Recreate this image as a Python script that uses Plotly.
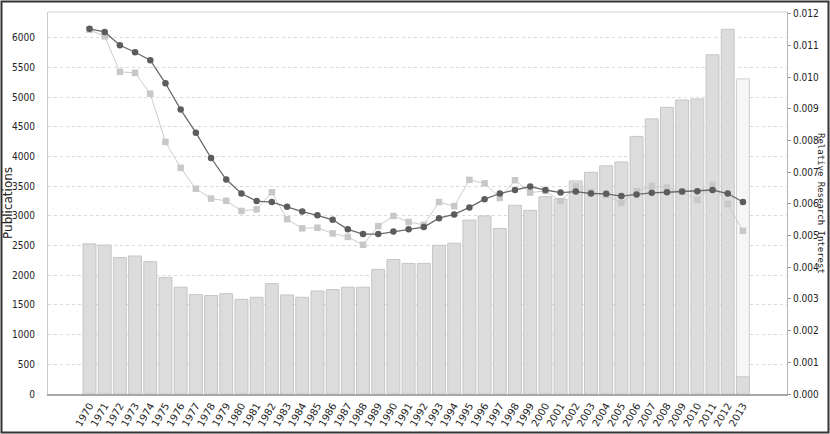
import plotly.graph_objects as go

years = [str(y) for y in range(1970, 2014)]
publications = [2530, 2510, 2300, 2325, 2230, 1965, 1800, 1675, 1660, 1690,
                1595, 1630, 1860, 1670, 1630, 1735, 1760, 1800, 1800, 2100,
                2265, 2200, 2200, 2505, 2540, 2930, 3000, 2790, 3180, 3095,
                3325, 3285, 3590, 3735, 3845, 3910, 4340, 4635, 4830, 4955,
                4970, 5715, 6145, 290]
projected_year = ["2013"]
projected_value = [5310]
interest_dark = [11.53, 11.43, 11.01, 10.79, 10.54, 9.81, 8.98, 8.25, 7.45, 6.77,
                 6.33, 6.09, 6.06, 5.91, 5.76, 5.64, 5.50, 5.20, 5.05, 5.05,
                 5.13, 5.20, 5.27, 5.55, 5.67, 5.89, 6.15, 6.33, 6.44, 6.55,
                 6.44, 6.36, 6.39, 6.33, 6.32, 6.25, 6.30, 6.35, 6.37, 6.39,
                 6.40, 6.44, 6.33, 6.06]
interest_light = [11.50, 11.29, 10.17, 10.14, 9.48, 7.96, 7.14, 6.48, 6.17, 6.10,
                  5.78, 5.83, 6.37, 5.52, 5.23, 5.25, 5.07, 4.96, 4.71, 5.30,
                  5.62, 5.43, 5.34, 6.06, 5.93, 6.76, 6.65, 6.19, 6.75, 6.36,
                  6.41, 6.09, 6.55, 6.38, 6.28, 6.03, 6.40, 6.57, 6.52, 6.38,
                  6.13, 6.60, 6.00, 5.15]
interest_dark = [v / 1000 for v in interest_dark]
interest_light = [v / 1000 for v in interest_light]
right_ticks = [i / 1000 for i in range(0, 13)]
right_labels = ["%.3f" % v for v in right_ticks]

tick_font = dict(family="Liberation Sans Narrow, DejaVu Sans Condensed, Arial Narrow, sans-serif",
                 size=10, color="#222")

fig = go.Figure()
fig.add_trace(go.Bar(x=projected_year, y=projected_value, marker=dict(color="#f6f6f6",
                     line=dict(color="#cfcfcf", width=1)), yaxis="y"))
fig.add_trace(go.Bar(x=years, y=publications, marker=dict(color="#dcdcdc",
                     line=dict(color="#c6c6c6", width=1)), yaxis="y"))
fig.add_trace(go.Scatter(x=years, y=interest_light, yaxis="y2", mode="lines+markers",
                         line=dict(color="#cccccc", width=1),
                         marker=dict(symbol="square", size=6.5, color="#c8c8c8")))
fig.add_trace(go.Scatter(x=years, y=interest_dark, yaxis="y2", mode="lines+markers",
                         line=dict(color="#6a6a6a", width=1.3),
                         marker=dict(symbol="circle", size=6.5, color="#5c5c5c")))

W, H = 830, 434
l, r, t, b = 48, 43, 12, 40
pw, ph = W - l - r, H - t - b
def px(x):
    return (x - l) / pw
def py(y):
    return (H - b - y) / ph

fig.update_layout(
    width=W, height=H, margin=dict(l=l, r=r, t=t, b=b, autoexpand=False),
    paper_bgcolor="white", plot_bgcolor="white",
    barmode="overlay", bargap=0.15, showlegend=False,
    xaxis=dict(type="category", categoryorder="array", categoryarray=years,
               range=[-2.73, 45.9], tickangle=-60,
               tickfont=dict(family="DejaVu Sans", size=10, color="#222"),
               showgrid=False, showline=True, linecolor="#a8a8a8", linewidth=2,
               ticks="", automargin=False),
    yaxis=dict(range=[0, 6436], tickvals=list(range(0, 6001, 500)), tickfont=tick_font,
               showgrid=True, gridcolor="#dadada", griddash="dot", gridwidth=1,
               zeroline=False, showline=True, linecolor="#cccccc", linewidth=1,
               ticks="outside", ticklen=10, tickcolor="rgba(0,0,0,0)", automargin=False),
    yaxis2=dict(overlaying="y", side="right", range=[0, 0.01206], tickvals=right_ticks,
                ticktext=right_labels, tickfont=tick_font, showgrid=False, zeroline=False,
                showline=True, linecolor="#b8b8b8", linewidth=1, ticks="outside", ticklen=3,
                tickcolor="#999", automargin=False),
    annotations=[
        dict(text="Relative Research Interest", textangle=90, xref="paper", yref="paper",
             x=px(821), y=0.5, showarrow=False, xanchor="center", yanchor="middle",
             font=dict(family="DejaVu Sans Mono", size=9, color="#222")),
        dict(text="Publications", textangle=-90, xref="paper", yref="paper",
             x=px(8), y=0.5, showarrow=False, xanchor="center", yanchor="middle",
             font=dict(family="DejaVu Sans", size=12, color="#222")),
    ],
    shapes=[
        dict(type="line", xref="paper", yref="paper", x0=0, x1=1, y0=1, y1=1,
             line=dict(color="#d0d0d0", width=1)),
        dict(type="rect", xref="paper", yref="paper", x0=px(1.5), x1=px(828.5), y0=py(1.5), y1=py(432.5),
             line=dict(color="#333333", width=2), layer="above"),
    ],
)

fig.write_html("out.html")
